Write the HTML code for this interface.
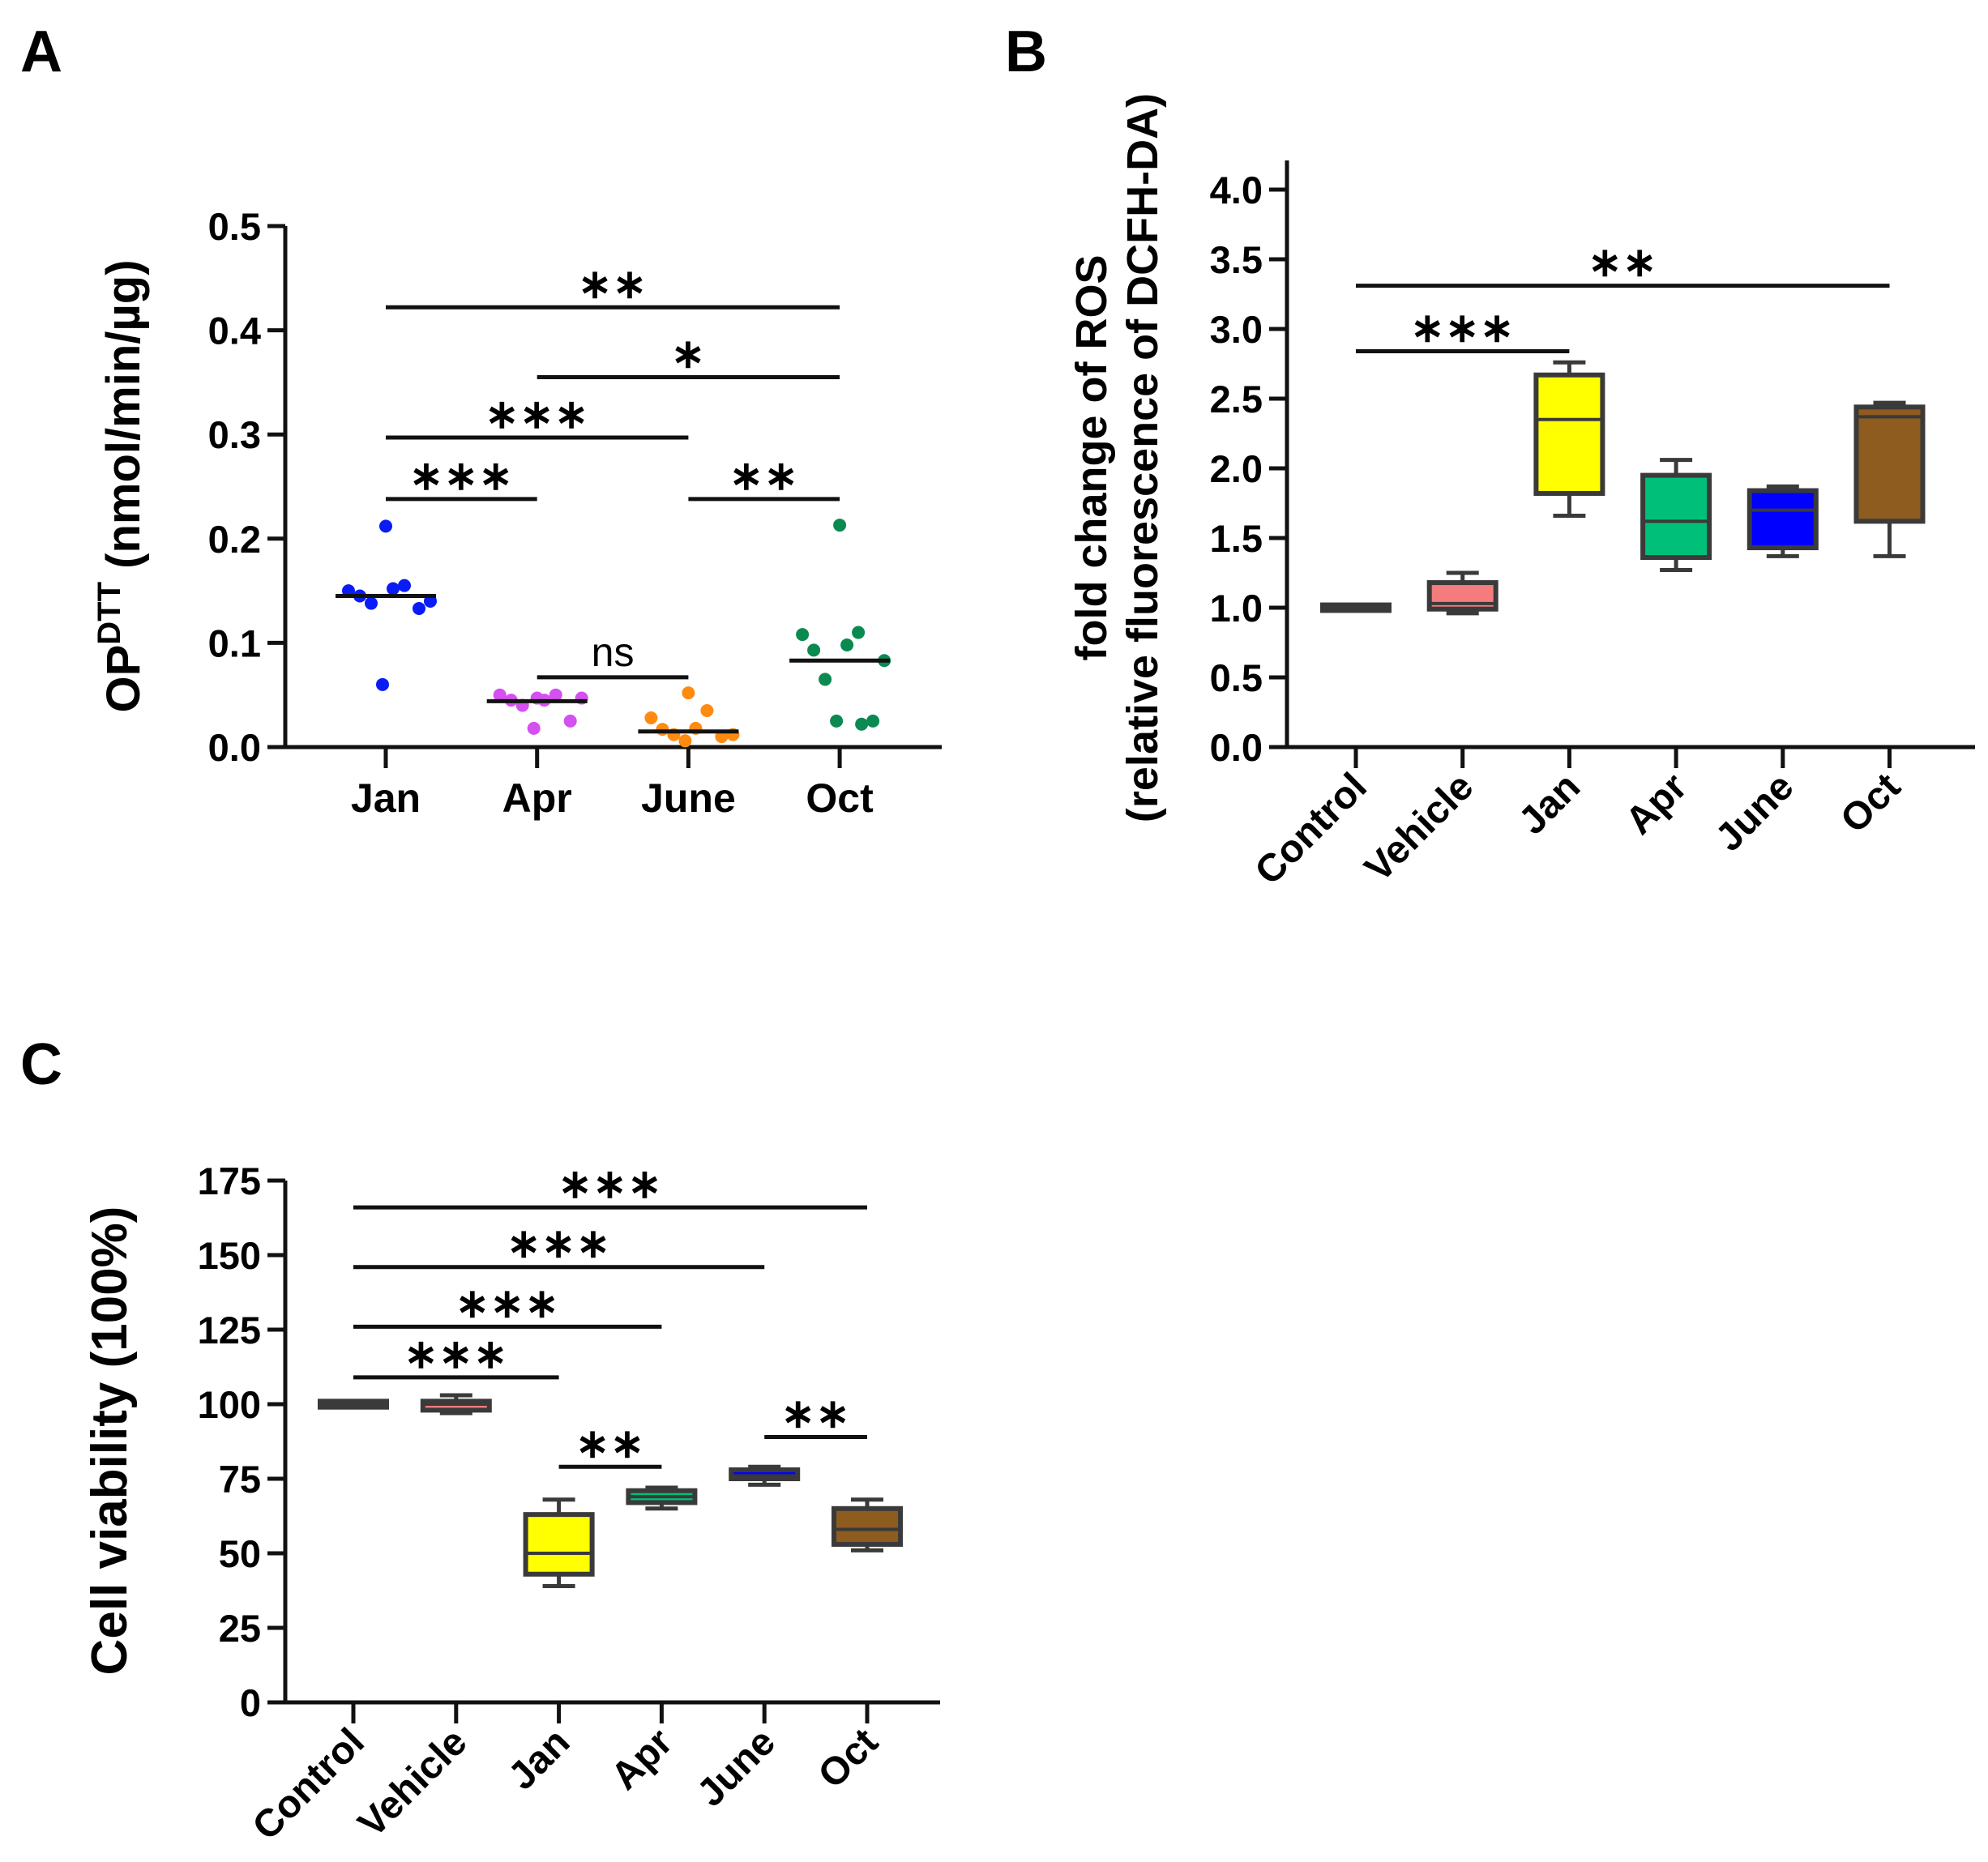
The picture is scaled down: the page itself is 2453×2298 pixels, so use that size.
<!DOCTYPE html>
<html><head><meta charset="utf-8">
<style>
html,body{margin:0;padding:0;background:#fff;}
svg{display:block;font-family:"Liberation Sans",Arial,sans-serif;}
</style></head>
<body>
<svg id="fig" width="2453" height="2298" viewBox="0 0 2453 2298" xmlns="http://www.w3.org/2000/svg">
<text x="25" y="88" font-size="72" font-weight="bold">A</text>
<text x="1240" y="88" font-size="72" font-weight="bold">B</text>
<text x="25" y="1338" font-size="72" font-weight="bold">C</text>
<g id="pa"></g>
<g id="pb"></g>
<g id="pc"></g>
</svg>
<script>
// ---- Panel A data ----
const aCats = ["Jan","Apr","June","Oct"];
const aJan = [0.212,0.155,0.150,0.152,0.145,0.140,0.138,0.133,0.060];
const aApr = [0.047,0.050,0.050,0.045,0.045,0.047,0.040,0.025,0.018];
const aJune = [0.052,0.035,0.028,0.018,0.017,0.012,0.012,0.010,0.006];
const aOct = [0.213,0.110,0.108,0.098,0.093,0.083,0.065,0.025,0.025,0.022];
const aMedians = [0.145,0.044,0.015,0.083];
const aTicks = ["0.0","0.1","0.2","0.3","0.4","0.5"];
const aBrackets = [[0,3,0.422,"**"],[1,3,0.355,"*"],[0,2,0.297,"***"],[0,1,0.238,"***"],[2,3,0.238,"**"],[1,2,0.067,"ns"]];
// ---- Panel B data ----
const bCats = ["Control","Vehicle","Jan","Apr","June","Oct"];
const bMin = [0.99,0.96,1.66,1.27,1.37,1.37];
const bQ1 = [0.98,0.99,1.82,1.36,1.43,1.62];
const bMed = [1.00,1.03,2.35,1.62,1.70,2.37];
const bQ3 = [1.02,1.18,2.67,1.95,1.84,2.44];
const bMax = [1.02,1.25,2.76,2.06,1.87,2.47];
const bTicks = ["0.0","0.5","1.0","1.5","2.0","2.5","3.0","3.5","4.0"];
const bBrackets = [[0,5,3.31,"**"],[0,2,2.84,"***"]];
// ---- Panel C data ----
const cCats = ["Control","Vehicle","Jan","Apr","June","Oct"];
const cMin = [99,97,39,65,73,51];
const cQ1 = [99,98,43,67,75,53];
const cMed = [100,100,50,69,76,58];
const cQ3 = [101,101,63,71,78,65];
const cMax = [101,103,68,72,79,68];
const cTicks = ["0","25","50","75","100","125","150","175"];
const cBrackets = [[0,5,166,"***"],[0,4,146,"***"],[0,3,126,"***"],[0,2,109,"***"],[2,3,79,"**"],[4,5,89,"**"]];
const boxColors = ["#444444","#f47c7c","#ffff00","#00bf78","#0000ff","#8e5c1f"];

const NS="http://www.w3.org/2000/svg";
function mk(parent,tag,attrs,text){const e=document.createElementNS(NS,tag);for(const k in attrs)e.setAttribute(k,attrs[k]);if(text!==undefined)e.textContent=text;parent.appendChild(e);return e;}

function axes(g,o){
  const ln=mk(g,'line',{x1:o.ax,y1:o.y0,x2:o.ax,y2:o.yTop,stroke:'#111','stroke-width':5});
  
  
  const lx=mk(g,'line',{x1:o.ax-22,y1:o.y0,x2:o.xEnd,y2:o.y0,stroke:'#111','stroke-width':5});
  
  
  o.ticks.forEach((t,i)=>{
    const y=o.yScale(o.tickVals[i]);
    const tl=mk(g,'line',{x1:o.ax-22,y1:y,x2:o.ax,y2:y,stroke:'#111','stroke-width':5});
    
    
    const tx=mk(g,'text',{x:o.ax-30,y:y+17,'font-size':47,'font-weight':'bold','text-anchor':'end'},t);
    
    
  });
  o.cats.forEach((c,i)=>{
    const x=o.xScale(i);
    const tl=mk(g,'line',{x1:x,y1:o.y0,x2:x,y2:o.y0+26,stroke:'#111','stroke-width':5});
    
    
    let tx;
    if(o.rotate){
      tx=mk(g,'text',{x:x+16,y:o.y0+52,'font-size':48,'font-weight':'bold','text-anchor':'end',transform:`rotate(-45 ${x+16} ${o.y0+52})`},c);
    } else {
      tx=mk(g,'text',{x:x,y:o.y0+80,'font-size':50,'font-weight':'bold','text-anchor':'middle'},c);
    }
    
    
  });
}
function brackets(g,list,xScale,yScale){
  list.forEach(b=>{
    const y=yScale(b[2]);
    const l=mk(g,'line',{x1:xScale(b[0]),y1:y,x2:xScale(b[1]),y2:y,stroke:'#111','stroke-width':5});
    
    
    const ns=b[3]==="ns";
    const t=mk(g,'text',{x:(xScale(b[0])+xScale(b[1]))/2,y:ns?y-14:y-12,'font-size':50,'font-weight':ns?'normal':'bold','text-anchor':'middle','letter-spacing':ns?0:1},ns?"ns":b[3].replace(/\*/g,'∗'));
    
    
  });
}
function boxes(g,mn,q1,md,q3,mx,xScale,yScale,w){
  mn.forEach((_,i)=>{
    const x=xScale(i), c=boxColors[i];
    const wh=mk(g,'line',{x1:x,y1:yScale(mn[i]),x2:x,y2:yScale(mx[i]),stroke:'#3a3a3a','stroke-width':5});
    
    
    [mn[i],mx[i]].forEach(v=>{
      const cap=mk(g,'line',{x1:x-20,y1:yScale(v),x2:x+20,y2:yScale(v),stroke:'#3a3a3a','stroke-width':5});
      
      
    });
    const top=yScale(q3[i]), bot=yScale(q1[i]);
    const r=mk(g,'rect',{x:x-w/2,y:top,width:w,height:Math.max(bot-top,4),fill:c,stroke:'#3a3a3a','stroke-width':6});
    
    
    const m=mk(g,'line',{x1:x-w/2,y1:yScale(md[i]),x2:x+w/2,y2:yScale(md[i]),stroke:'#3a3a3a','stroke-width':4});
    
    
  });
}

// ---- Panel A ----
(function(){
  const g=document.getElementById('pa');
  const ax=352,y0=922,yTop=279;
  const yS=v=>y0-v/0.5*(y0-yTop);
  const xS=i=>476+i*186.7;
  axes(g,{ax,y0,yTop,xEnd:1162,ticks:aTicks,tickVals:aTicks.map(Number),yScale:yS,cats:aCats,xScale:xS,rotate:false});
  const series=[aJan,aApr,aJune,aOct], cols=["#0a1cf5","#d450f0","#ff8a10","#0a8a50"];
  series.forEach((s,i)=>{
    s.forEach((v,j)=>{
      const off=(j%2?1:-1)*((j*23)%60) ;
      const c=mk(g,'circle',{cx:xS(i)+off,cy:yS(v),r:8,fill:cols[i]});
      
      
    });
    const m=mk(g,'line',{x1:xS(i)-62,y1:yS(aMedians[i]),x2:xS(i)+62,y2:yS(aMedians[i]),stroke:'#111','stroke-width':5});
    
    
  });
  brackets(g,aBrackets,xS,yS);
  const t=mk(g,'text',{transform:'translate(172,600) rotate(-90)','font-size':58,'font-weight':'bold','text-anchor':'middle'});
  
  
  mk(t,'tspan',{},'OP');
  mk(t,'tspan',{dy:-24,'font-size':40},'DTT');
  mk(t,'tspan',{dy:24},' (nmol/min/µg)');
})();

// ---- Panel B ----
(function(){
  const g=document.getElementById('pb');
  const ax=1588,y0=922,y4=234;
  const yS=v=>y0-v/4*(y0-y4);
  const xS=i=>1673+i*131.7;
  axes(g,{ax,y0,yTop:198,xEnd:2437,ticks:bTicks,tickVals:bTicks.map(Number),yScale:yS,cats:bCats,xScale:xS,rotate:true});
  boxes(g,bMin,bQ1,bMed,bQ3,bMax,xS,yS,82);
  brackets(g,bBrackets,xS,yS);
  const t1=mk(g,'text',{transform:'translate(1365,565) rotate(-90)','font-size':54,'font-weight':'bold','text-anchor':'middle'},'fold change of ROS');
  
  
  const t2=mk(g,'text',{transform:'translate(1428,565) rotate(-90)','font-size':54,'font-weight':'bold','text-anchor':'middle'},'(relative fluorescence of DCFH-DA)');
  
  
})();

// ---- Panel C ----
(function(){
  const g=document.getElementById('pc');
  const ax=352,y0=2101,yTop=1457;
  const yS=v=>y0-v/175*(y0-yTop);
  const xS=i=>436+i*126.8;
  axes(g,{ax,y0,yTop,xEnd:1160,ticks:cTicks,tickVals:cTicks.map(Number),yScale:yS,cats:cCats,xScale:xS,rotate:true});
  boxes(g,cMin,cQ1,cMed,cQ3,cMax,xS,yS,82);
  brackets(g,cBrackets,xS,yS);
  const t=mk(g,'text',{transform:'translate(156,1778) rotate(-90)','font-size':62,'font-weight':'bold','text-anchor':'middle'},'Cell viability (100%)');
  
  
})();
</script>
</body></html>
